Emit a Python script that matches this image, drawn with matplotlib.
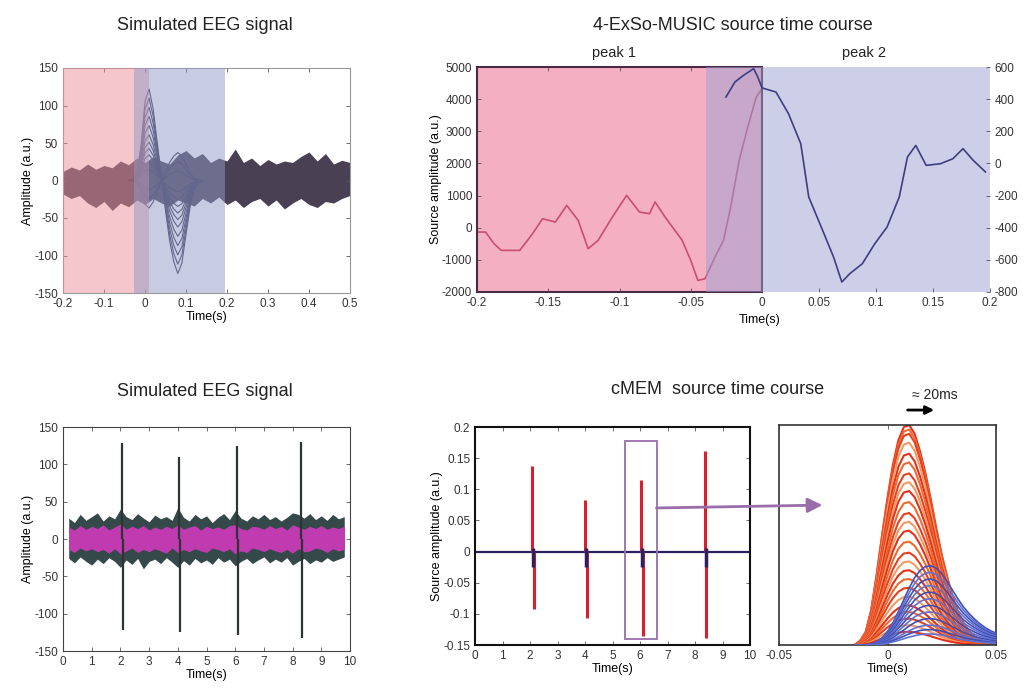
import numpy as np
import matplotlib
matplotlib.use('Agg')
import matplotlib.pyplot as plt
from matplotlib.patches import Rectangle, ConnectionPatch

plt.rcParams['font.family'] = ['Liberation Sans', 'DejaVu Sans']
plt.rcParams['axes.unicode_minus'] = False

# ---- data ----
# top-left: simulated EEG, 0.7 s window
bandA_t = np.round(np.arange(-0.2, 0.501, 0.02), 2)
bandA_hi = [12, 18, 14, 22, 15, 20, 17, 26, 21, 30, 24, 32, 26, 22, 34, 40, 30, 36,
            24, 30, 26, 42, 24, 30, 20, 28, 22, 26, 24, 32, 38, 26, 36, 22, 27, 24]
bandA_lo = [-18, -24, -20, -30, -36, -28, -40, -30, -35, -26, -32, -24, -30, -34, -26, -30, -34, -24,
            -30, -22, -32, -26, -36, -28, -24, -34, -26, -38, -30, -24, -32, -36, -28, -30, -24, -20]
spikeA_t = [-0.04, -0.03, -0.02, -0.01, 0.0, 0.01, 0.02, 0.03, 0.04, 0.05,
            0.06, 0.07, 0.08, 0.09, 0.10, 0.11, 0.12, 0.13, 0.14]
spikeA_v = [0, 2, 10, 45, 105, 122, 95, 50, 5, -40, -80, -108, -124, -110, -72, -35, -12, -3, 0]
chan_gains = [1.0, 0.9, 0.8, 0.7, 0.6, 0.5, 0.42, 0.35, 0.28, 0.2, 0.12, -0.1, -0.2, -0.3]

# top-right: 4-ExSo-MUSIC, peak 1 (left axis) and peak 2 (right axis)
peak1_t = [-0.2, -0.194, -0.188, -0.183, -0.170, -0.161, -0.154, -0.145, -0.137, -0.129,
           -0.122, -0.115, -0.105, -0.095, -0.086, -0.079, -0.075, -0.068, -0.056, -0.050,
           -0.045, -0.040, -0.033, -0.027, -0.022, -0.016, -0.010, -0.004, 0.0]
peak1_v = [-135, -135, -500, -705, -705, -187, 280, 176, 695, 228,
           -654, -394, 332, 1006, 488, 436, 800, 332, -394, -1017,
           -1639, -1587, -913, -394, 643, 2095, 3133, 4066, 4326]
peak2_t = [-0.0316, -0.0237, -0.0162, -0.0073, -0.0037, 0.0, 0.0123, 0.0232, 0.034, 0.041,
           0.052, 0.0628, 0.070, 0.077, 0.088, 0.0989, 0.1097, 0.1204, 0.1276, 0.1349,
           0.144, 0.1565, 0.1674, 0.1763, 0.1853, 0.196]
peak2_v = [413, 507, 548, 590, 538, 470, 444, 310, 123, -209,
           -396, -583, -738, -686, -624, -500, -396, -209, 40, 112,
           -12, -2, 29, 92, 19, -53]

# bottom-left: simulated EEG, 10 s
bandC_t = np.round(np.arange(0.2, 9.81, 0.2), 1)
bandC_hi = [28, 22, 33, 25, 30, 35, 24, 31, 27, 40, 30, 26, 34, 28, 23, 32, 27, 30, 25, 42,
            29, 24, 33, 27, 31, 22, 29, 34, 26, 38, 28, 24, 31, 27, 33, 26, 30, 24, 29, 35,
            33, 28, 34, 26, 31, 25, 33, 27, 30]
bandC_lo = [-26, -32, -24, -30, -35, -27, -33, -25, -30, -38, -28, -34, -26, -40, -30, -27, -33, -25, -31, -38,
            -29, -35, -26, -32, -28, -34, -25, -31, -27, -36, -30, -26, -33, -28, -24, -32, -27, -31, -25, -35,
            -30, -26, -33, -28, -31, -25, -30, -27, -24]
magC_hi = [16, 12, 18, 13, 17, 14, 19, 12, 16, 20, 13, 17, 14, 18, 12, 16, 13, 17, 14, 19,
           13, 16, 18, 12, 17, 14, 16, 13, 18, 19, 14, 12, 17, 16, 13, 18, 14, 17, 12, 19,
           16, 13, 17, 14, 18, 13, 16, 14, 17]
magC_lo = [-14, -18, -12, -16, -13, -17, -14, -19, -13, -20, -16, -12, -18, -14, -17, -13, -16, -19, -12, -18,
           -14, -17, -13, -16, -18, -12, -14, -17, -13, -20, -16, -18, -12, -14, -17, -13, -16, -18, -14, -19,
           -13, -17, -16, -12, -14, -18, -13, -16, -14]
spikeC_t = [2.05, 4.05, 6.05, 8.3]
spikeC_up = [128, 110, 125, 130]
spikeC_dn = [-122, -125, -128, -132]

# bottom-middle: cMEM sources, 10 s
spikeD_t = [2.07, 4.0, 6.05, 8.35]
spikeD_up = [0.137, 0.083, 0.115, 0.162]
spikeD_dn = [-0.093, -0.107, -0.136, -0.138]

# bottom-right: zoom on the third spike
zoom_t = [-0.015, -0.0125, -0.01, -0.0075, -0.005, -0.0025, 0.0, 0.0025, 0.005, 0.0075,
          0.01, 0.0125, 0.015, 0.0175, 0.02, 0.0225, 0.025, 0.0275, 0.03, 0.0325,
          0.035, 0.0375, 0.04, 0.0425, 0.045, 0.0475, 0.05]
red_shape = [0, 0.02, 0.06, 0.16, 0.32, 0.5, 0.67, 0.82, 0.93, 0.99,
             1.0, 0.96, 0.88, 0.78, 0.66, 0.53, 0.41, 0.31, 0.22, 0.15,
             0.1, 0.065, 0.04, 0.025, 0.015, 0.008, 0.004]
blue_shape = [0, 0, 0, 0.01, 0.04, 0.09, 0.17, 0.28, 0.42, 0.57,
              0.72, 0.85, 0.94, 0.99, 1.0, 0.97, 0.9, 0.8, 0.69, 0.58,
              0.48, 0.4, 0.33, 0.27, 0.22, 0.18, 0.15]
red_gains = [1.0, 0.98, 0.96, 0.92, 0.87, 0.83, 0.78, 0.74, 0.7, 0.65, 0.6, 0.56, 0.52,
             0.47, 0.42, 0.38, 0.34, 0.3, 0.26, 0.22, 0.18, 0.15, 0.12, 0.09, 0.06]
blue_gains = [0.36, 0.33, 0.3, 0.27, 0.24, 0.21, 0.18, 0.15, 0.12, 0.09, 0.07, 0.05]

W, H = 1026, 693
fig = plt.figure(figsize=(W / 100, H / 100), dpi=100)


def px_axes(x0, y0, x1, y1, **kw):
    return fig.add_axes([x0 / W, 1 - y1 / H, (x1 - x0) / W, (y1 - y0) / H], **kw)


def style(ax, frame='#555555', lw=0.8):
    ax.tick_params(direction='in', top=True, right=True, labelsize=8.5,
                   length=3, width=0.6, colors='#555555', labelcolor='#333333')
    for s in ax.spines.values():
        s.set_color(frame)
        s.set_linewidth(lw)


def ftext(x, y, s, size=13, **kw):
    fig.text(x / W, 1 - y / H, s, ha='center', va='center', fontsize=size, color='#222222', **kw)


# ---- A: simulated EEG (short window) ----
axA = px_axes(63, 68, 350, 293)
axA.fill_between(bandA_t, bandA_lo, bandA_hi, color='#4a4054', lw=0, zorder=1)
for g in chan_gains:
    axA.plot(spikeA_t, g * np.array(spikeA_v), color='#35324f', lw=0.8, zorder=2)
axA.axvspan(-0.2, 0.01, color=(235 / 255, 142 / 255, 152 / 255), alpha=0.49, lw=0, zorder=3)
axA.axvspan(-0.027, 0.195, color=(145 / 255, 155 / 255, 201 / 255), alpha=0.5, lw=0, zorder=3)
axA.set_xlim(-0.2, 0.5)
axA.set_ylim(-150, 150)
axA.set_xticks([-0.2, -0.1, 0, 0.1, 0.2, 0.3, 0.4, 0.5])
axA.set_xticklabels(['-0.2', '-0.1', '0', '0.1', '0.2', '0.3', '0.4', '0.5'])
axA.set_yticks([-150, -100, -50, 0, 50, 100, 150])
style(axA, frame='#999999')
axA.set_xlabel('Time(s)', fontsize=9, labelpad=1)
axA.set_ylabel('Amplitude (a.u.)', fontsize=9, labelpad=0)
ftext(205, 25, 'Simulated EEG signal')

# ---- B: 4-ExSo-MUSIC source time course ----
axBL = px_axes(477, 67, 762, 292)
axBR = px_axes(477, 67, 990, 292)
axBR.patch.set_visible(False)
axBL.axvspan(-0.2, 0, color='#f5afc3', lw=0, zorder=0)
axBL.plot(peak1_t, peak1_v, color='#c8506e', lw=1.2, zorder=2)
axBL.set_xlim(-0.2, 0)
axBL.set_ylim(-2000, 5000)
axBL.set_xticks([-0.2, -0.15, -0.1, -0.05, 0])
axBL.set_xticklabels(['-0.2', '-0.15', '-0.1', '-0.05', '0'])
axBL.set_yticks(range(-2000, 5001, 1000))
style(axBL, frame='#4a2a45', lw=1.5)
axBL.tick_params(right=False)
axBL.set_ylabel('Source amplitude (a.u.)', fontsize=9, labelpad=0)

axBR.axvspan(-0.049, 0.2, color=(155 / 255, 161 / 255, 209 / 255), alpha=0.5, lw=0, zorder=1)
axBR.plot(peak2_t, peak2_v, color='#3e3f80', lw=1.2, zorder=3)
axBR.set_xlim(-0.25, 0.2)
axBR.set_ylim(-800, 600)
axBR.set_xticks([0.05, 0.1, 0.15, 0.2])
axBR.set_xticklabels(['0.05', '0.1', '0.15', '0.2'])
axBR.set_yticks(range(-800, 601, 200))
axBR.yaxis.tick_right()
style(axBR)
axBR.tick_params(left=False, top=False, labelleft=False)
for s in axBR.spines.values():
    s.set_visible(False)
axBR.set_xlabel('Time(s)', fontsize=9, labelpad=1)
axBR.xaxis.set_label_coords((760 - 477) / 513, -0.1)
ftext(733, 25, '4-ExSo-MUSIC source time course')
ftext(614, 53, 'peak 1', size=10.5)
ftext(864, 53, 'peak 2', size=10.5)

# ---- C: simulated EEG (10 s) ----
axC = px_axes(63, 427, 350, 651)
axC.fill_between(bandC_t, bandC_lo, bandC_hi, color='#36494a', lw=0, zorder=1)
axC.fill_between(bandC_t, magC_lo, magC_hi, color='#c03ab0', lw=0, zorder=2)
axC.vlines(spikeC_t, 0, spikeC_up, color='#2c3434', lw=1.6, zorder=3)
axC.vlines(np.array(spikeC_t) + 0.04, spikeC_dn, 0, color='#2c3434', lw=1.6, zorder=3)
axC.set_xlim(0, 10)
axC.set_ylim(-150, 150)
axC.set_xticks(range(0, 11))
axC.set_yticks([-150, -100, -50, 0, 50, 100, 150])
style(axC, frame='#444444')
axC.set_xlabel('Time(s)', fontsize=9, labelpad=1)
axC.set_ylabel('Amplitude (a.u.)', fontsize=9, labelpad=0)
ftext(205, 392, 'Simulated EEG signal')

# ---- D: cMEM source time course (10 s) ----
axD = px_axes(475, 427, 750, 645)
axD.axhline(0, color='#2d2060', lw=1.6, zorder=2)
axD.vlines(spikeD_t, 0, spikeD_up, color='#d8202c', lw=2.2, zorder=3)
axD.vlines(np.array(spikeD_t) + 0.06, spikeD_dn, 0, color='#d8202c', lw=2.2, zorder=3)
axD.vlines(np.array(spikeD_t) + 0.04, -0.025, 0.005, color='#2d2060', lw=2.5, zorder=4)
axD.add_patch(Rectangle((5.45, -0.14), 1.15, 0.318, fill=False, edgecolor='#9a6cab', lw=1.3, zorder=5))
axD.set_xlim(0, 10)
axD.set_ylim(-0.15, 0.2)
axD.set_xticks(range(0, 11))
axD.set_yticks([-0.15, -0.1, -0.05, 0, 0.05, 0.1, 0.15, 0.2])
axD.set_yticklabels(['-0.15', '-0.1', '-0.05', '0', '0.05', '0.1', '0.15', '0.2'])
style(axD, frame='#111111', lw=1.5)
axD.set_xlabel('Time(s)', fontsize=9, labelpad=1)
axD.set_ylabel('Source amplitude (a.u.)', fontsize=9, labelpad=0)
ftext(718, 390, 'cMEM  source time course')

# ---- E: zoom on one spike ----
axE = px_axes(779, 425, 996, 645)
red_cols = ['#e2321c', '#ef6a30', '#e8401f', '#f39a62']
for i, g in enumerate(red_gains):
    axE.plot(zoom_t, g * np.array(red_shape), color=red_cols[i % 4], lw=1.5, zorder=2)
blue_cols = ['#3f4fb8', '#6070d0']
for i, g in enumerate(blue_gains):
    axE.plot(zoom_t, g * np.array(blue_shape), color=blue_cols[i % 2], lw=1.2, zorder=3)
axE.set_xlim(-0.05, 0.05)
axE.set_ylim(0, 1.0)
axE.set_xticks([-0.05, 0, 0.05])
axE.set_xticklabels(['-0.05', '0', '0.05'])
axE.set_yticks([])
style(axE, frame='#333333', lw=1.2)
axE.set_xlabel('Time(s)', fontsize=9, labelpad=1)
axE.annotate('', xy=(0.0228, 1.068), xytext=(0.008, 1.068),
             xycoords=('data', 'axes fraction'), annotation_clip=False,
             arrowprops=dict(arrowstyle='-|>', color='black', lw=2, mutation_scale=12))
axE.text(0.022, 1.136, '\u2248 20ms', transform=axE.get_xaxis_transform(),
         ha='center', va='center', fontsize=10, color='#222222')

con = ConnectionPatch(xyA=(6.6, 0.07), coordsA=axD.transData,
                      xyB=(-0.03, 0.636), coordsB=axE.transData,
                      arrowstyle='-|>', color='#9a6cab', lw=2, mutation_scale=22)
fig.add_artist(con)

fig.savefig('out.png', dpi=100)
